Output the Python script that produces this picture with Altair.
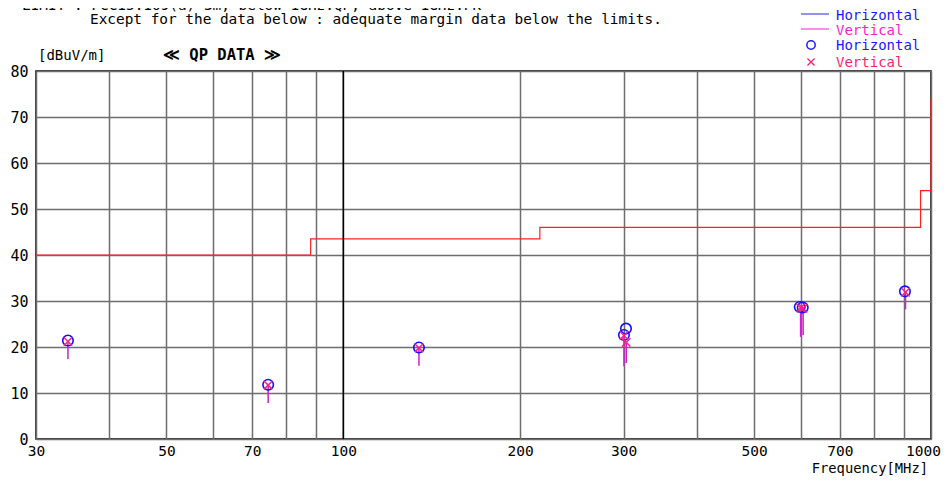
import altair as alt
import pandas as pd

# ---------------- data ----------------
limit_freq = [30, 88, 88, 216, 216, 960, 960, 1000, 1000]
limit_level = [40, 40, 43.5, 43.5, 46, 46, 54, 54, 74]

h_freq = [34.0, 74.5, 134.5, 302.7, 300.3, 598.0, 605.0, 903.0]
h_level = [21.4, 11.8, 19.9, 24.0, 22.6, 28.7, 28.6, 32.1]

v_freq = [34.0, 74.5, 134.5, 300.3, 303.0, 600.0, 606.0, 905.0]
v_level = [21.2, 11.7, 19.8, 22.5, 21.0, 28.5, 28.4, 31.9]
stem_low = [17.4, 7.8, 15.9, 15.8, 16.5, 22.2, 22.6, 28.2]

grid_ticks = [30, 40, 50, 60, 70, 80, 90, 100, 200, 300, 400, 500, 600, 700, 800, 900, 1000]
label_ticks = [30, 50, 70, 100, 200, 300, 500, 700, 1000]
y_ticks = [0, 10, 20, 30, 40, 50, 60, 70, 80]

FONT = "DejaVu Sans Mono"
W, H = 895, 368

limit_df = pd.DataFrame({"f": limit_freq, "lv": limit_level, "i": list(range(len(limit_freq)))})
h_df = pd.DataFrame({"f": h_freq, "lv": h_level})
v_df = pd.DataFrame({"f": v_freq, "lv": v_level, "low": stem_low})

xs = alt.Scale(type="log", domain=[30, 1000], nice=False)
ys = alt.Scale(domain=[0, 80], nice=False)

label_list = "[" + ",".join(str(v) for v in label_ticks) + "]"
x_axis = alt.Axis(
    values=grid_ticks, grid=True, ticks=False, domain=False, title=None,
    labelExpr=f"indexof({label_list}, datum.value) >= 0 ? '' + datum.value : ''",
    labelFont=FONT, labelFontSize=14.5, labelColor="black", labelPadding=5,
    labelFlush=False, labelOverlap=False,
    labelOffset={"condition": {"test": "datum.value == 1000", "value": -8}, "value": 0},
)
y_axis = alt.Axis(
    values=y_ticks, grid=True, ticks=False, domain=False, title=None,
    labelFont=FONT, labelFontSize=15, labelColor="black", labelPadding=8,
)

limit = alt.Chart(limit_df).mark_line(color="#ff2020", strokeWidth=1.2).encode(
    x=alt.X("f:Q", scale=xs, axis=x_axis),
    y=alt.Y("lv:Q", scale=ys, axis=y_axis),
    order="i:Q",
)

rule100 = alt.Chart(pd.DataFrame({"f": [100]})).mark_rule(color="black", strokeWidth=1.5).encode(
    x=alt.X("f:Q", scale=xs), y=alt.value(0), y2=alt.value(H)
)

stems = alt.Chart(v_df).mark_rule(color="#cc22cc", strokeWidth=1.5).encode(
    x=alt.X("f:Q", scale=xs), y=alt.Y("lv:Q", scale=ys), y2="low:Q"
)

circles = alt.Chart(h_df).mark_point(
    shape="circle", filled=False, color="#1010ff", size=110, strokeWidth=1.6, opacity=1
).encode(x=alt.X("f:Q", scale=xs), y=alt.Y("lv:Q", scale=ys))

crosses = alt.Chart(v_df).mark_point(
    shape="M-1,-1L1,1M-1,1L1,-1", filled=False, color="#ff1e8c", size=70, strokeWidth=1.5, opacity=1
).encode(x=alt.X("f:Q", scale=xs), y=alt.Y("lv:Q", scale=ys))

# ---------------- texts ----------------
def txt(text, x, y, color="black", size=14, bold=False, align="left"):
    return alt.Chart(pd.DataFrame({"t": [text]})).mark_text(
        font=FONT, fontSize=size, color=color, align=align, baseline="alphabetic",
        fontWeight="bold" if bold else "normal",
    ).encode(text="t:N", x=alt.value(x), y=alt.value(y))

texts = [
    txt("LIMIT : FCC15.109(a) 3m, below 1GHz:QP, above 1GHz:PK", -14, -61.5, size=14.4),
    txt("Except for the  data below : adequate margin data below the limits.", 54, -47, size=14.4),
    txt("[dBuV/m]", 2, -11),
    txt("≪ QP DATA ≫", 127, -11, size=15.5, bold=True),
    txt("Frequency[MHz]", 892, 402, size=13.8, align="right"),
    txt("Horizontal", 800, -51, color="#1a1aff"),
    txt("Vertical", 800, -36, color="#ff22cc"),
    txt("Horizontal", 800, -21, color="#1a1aff"),
    txt("Vertical", 800, -4, color="#ff1e6e"),
]

leg_lines = [
    alt.Chart(pd.DataFrame({"a": [0]})).mark_rule(color="#4a4aff", strokeWidth=1.2).encode(
        x=alt.value(765), x2=alt.value(793), y=alt.value(-57)),
    alt.Chart(pd.DataFrame({"a": [0]})).mark_rule(color="#ff44dd", strokeWidth=1.2).encode(
        x=alt.value(765), x2=alt.value(793), y=alt.value(-42)),
    alt.Chart(pd.DataFrame({"a": [0]})).mark_point(
        shape="circle", filled=False, color="#1a1aff", size=70, strokeWidth=1.5, opacity=1).encode(
        x=alt.value(775), y=alt.value(-26)),
    alt.Chart(pd.DataFrame({"a": [0]})).mark_point(
        shape="M-1,-1L1,1M-1,1L1,-1", filled=False, color="#ff1e6e", size=50, strokeWidth=1.3, opacity=1).encode(
        x=alt.value(775), y=alt.value(-9)),
]

chart = alt.layer(limit, rule100, stems, circles, crosses, *texts, *leg_lines).properties(
    width=W, height=H,
    autosize=alt.AutoSizeParams(type="none"),
    padding={"left": 28, "top": 63, "right": 10, "bottom": 37},
).configure_view(stroke="black", strokeWidth=1.5).configure_axis(
    gridColor="#6e6e6e", gridWidth=1.5, gridOpacity=1
)

chart.save("out.html", embed_options={"renderer": "svg", "actions": False})
